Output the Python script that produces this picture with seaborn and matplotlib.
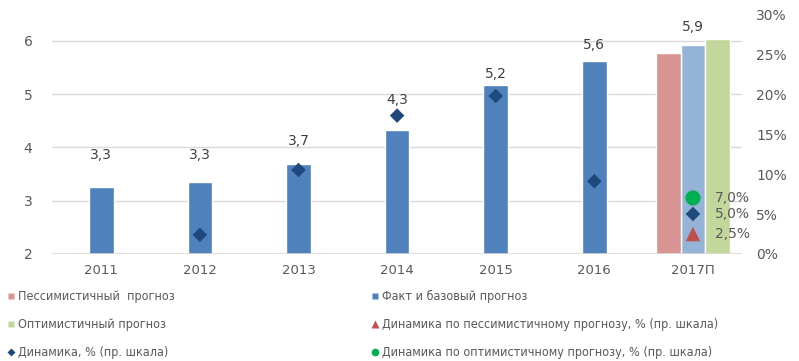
import matplotlib
matplotlib.use("Agg")
import numpy as np
import pandas as pd
import matplotlib.pyplot as plt
import seaborn as sns
from matplotlib.lines import Line2D
from matplotlib.ticker import FuncFormatter

# --- DATA ---
years = ["2011", "2012", "2013", "2014", "2015", "2016", "2017П"]
base_values = [3.26, 3.35, 3.69, 4.33, 5.17, 5.62, 5.92]
value_labels = ["3,3", "3,3", "3,7", "4,3", "5,2", "5,6", "5,9"]
label_heights = [3.86, 3.86, 4.12, 4.89, 5.38, 5.91, 6.26]
pess_value = 5.77
opt_value = 6.04

dyn_years = ["2012", "2013", "2014", "2015", "2016", "2017П"]
dyn_values = [2.4, 10.5, 17.3, 19.75, 9.1, 5.0]
pess_dyn = 2.5
opt_dyn = 7.0

# --- STYLE ---
sns.set_theme(style="white")
plt.rcParams['font.family'] = ['DejaVu Sans']
GRAY = "#595959"
C_BASE = "#4F81BD"
C_BASE_FC = "#95B3D7"
C_PESS = "#D99594"
C_OPT = "#C3D69B"
C_DIAM = "#1F497D"
C_TRI = "#C0504D"
C_CIRC = "#00B050"

fig = plt.figure(figsize=(7.99, 3.61), dpi=100)
ax = fig.add_axes([0.065, 0.2964, 0.864, 0.6648])

df = pd.DataFrame({"year": years, "value": base_values})
bar_colors = [C_BASE] * (len(years) - 1) + [C_BASE_FC]
sns.barplot(data=df, x="year", y="value", hue="year", palette=bar_colors,
            width=0.25, legend=False, ax=ax, saturation=1)

last = len(years) - 1
ax.bar(last - 0.25, pess_value - 2, bottom=2, width=0.25, color=C_PESS)
ax.bar(last + 0.25, opt_value - 2, bottom=2, width=0.25, color=C_OPT)

for i, (lab, h) in enumerate(zip(value_labels, label_heights)):
    ax.text(i, h, lab, ha="center", va="center", fontsize=10, color="#404040")

ax.set_ylim(2, 6.5)
ax.set_xlim(-0.5, len(years) - 0.5)
ax.set_yticks([2, 3, 4, 5, 6])
ax.yaxis.grid(True, color="#D9D9D9", linewidth=1)
ax.set_axisbelow(True)
for s in ax.spines.values():
    s.set_visible(False)
ax.axhline(2, color="#D9D9D9", linewidth=1.2)
ax.set_xlabel("")
ax.set_ylabel("")
ax.tick_params(axis="both", length=0, labelsize=9.5, colors=GRAY)
ax.tick_params(axis="y", pad=14, labelsize=10)
ax.tick_params(axis="x", pad=7)

# right axis
ax2 = ax.twinx()
dyn_x = [years.index(y) for y in dyn_years]
sns.scatterplot(x=dyn_x, y=dyn_values, marker="D", s=55, color=C_DIAM,
                edgecolor="none", ax=ax2, zorder=5)
sns.scatterplot(x=[last], y=[pess_dyn], marker="^", s=110, color=C_TRI,
                edgecolor="none", ax=ax2, zorder=5)
sns.scatterplot(x=[last], y=[opt_dyn], marker="o", s=120, color=C_CIRC,
                edgecolor="none", ax=ax2, zorder=5)
for v in [opt_dyn, dyn_values[-1], pess_dyn]:
    ax2.text(last + 0.22, v, f"{v:.1f}%".replace(".", ","), ha="left",
             va="center", fontsize=10, color=GRAY)

ax2.set_ylim(0, 30)
ax2.set_yticks(range(0, 31, 5))
ax2.yaxis.set_major_formatter(FuncFormatter(lambda v, p: f"{v:.0f}%"))
ax2.set_xlim(-0.5, len(years) - 0.5)
ax2.grid(False)
for s in ax2.spines.values():
    s.set_visible(False)
ax2.tick_params(axis="y", length=0, labelsize=10, colors=GRAY, pad=10)

# legend (two columns)
def sq(c):
    return Line2D([], [], marker="s", color="none", markerfacecolor=c,
                  markeredgecolor="none", markersize=5)

col1 = [(sq(C_PESS), "Пессимистичный  прогноз"),
        (sq(C_OPT), "Оптимистичный прогноз"),
        (Line2D([], [], marker="D", color="none", markerfacecolor=C_DIAM,
                markeredgecolor="none", markersize=4.5), "Динамика, % (пр. шкала)")]
col2 = [(sq(C_BASE), "Факт и базовый прогноз"),
        (Line2D([], [], marker="^", color="none", markerfacecolor=C_TRI,
                markeredgecolor="none", markersize=5.5),
         "Динамика по пессимистичному прогнозу, % (пр. шкала)"),
        (Line2D([], [], marker="o", color="none", markerfacecolor=C_CIRC,
                markeredgecolor="none", markersize=5.5),
         "Динамика по оптимистичному прогнозу, % (пр. шкала)")]

for items, x0 in [(col1, 0.010), (col2, 0.466)]:
    leg = fig.legend([h for h, _ in items], [t for _, t in items],
                     loc="upper left", bbox_to_anchor=(x0, 0.197),
                     frameon=False, handlelength=0.5, handletextpad=0.3,
                     labelspacing=1.2, borderaxespad=0, borderpad=0,
                     prop={"family": "DejaVu Sans", "stretch": "condensed",
                           "size": 9})
    for t in leg.get_texts():
        t.set_color(GRAY)

fig.savefig("out.png", dpi=100)
